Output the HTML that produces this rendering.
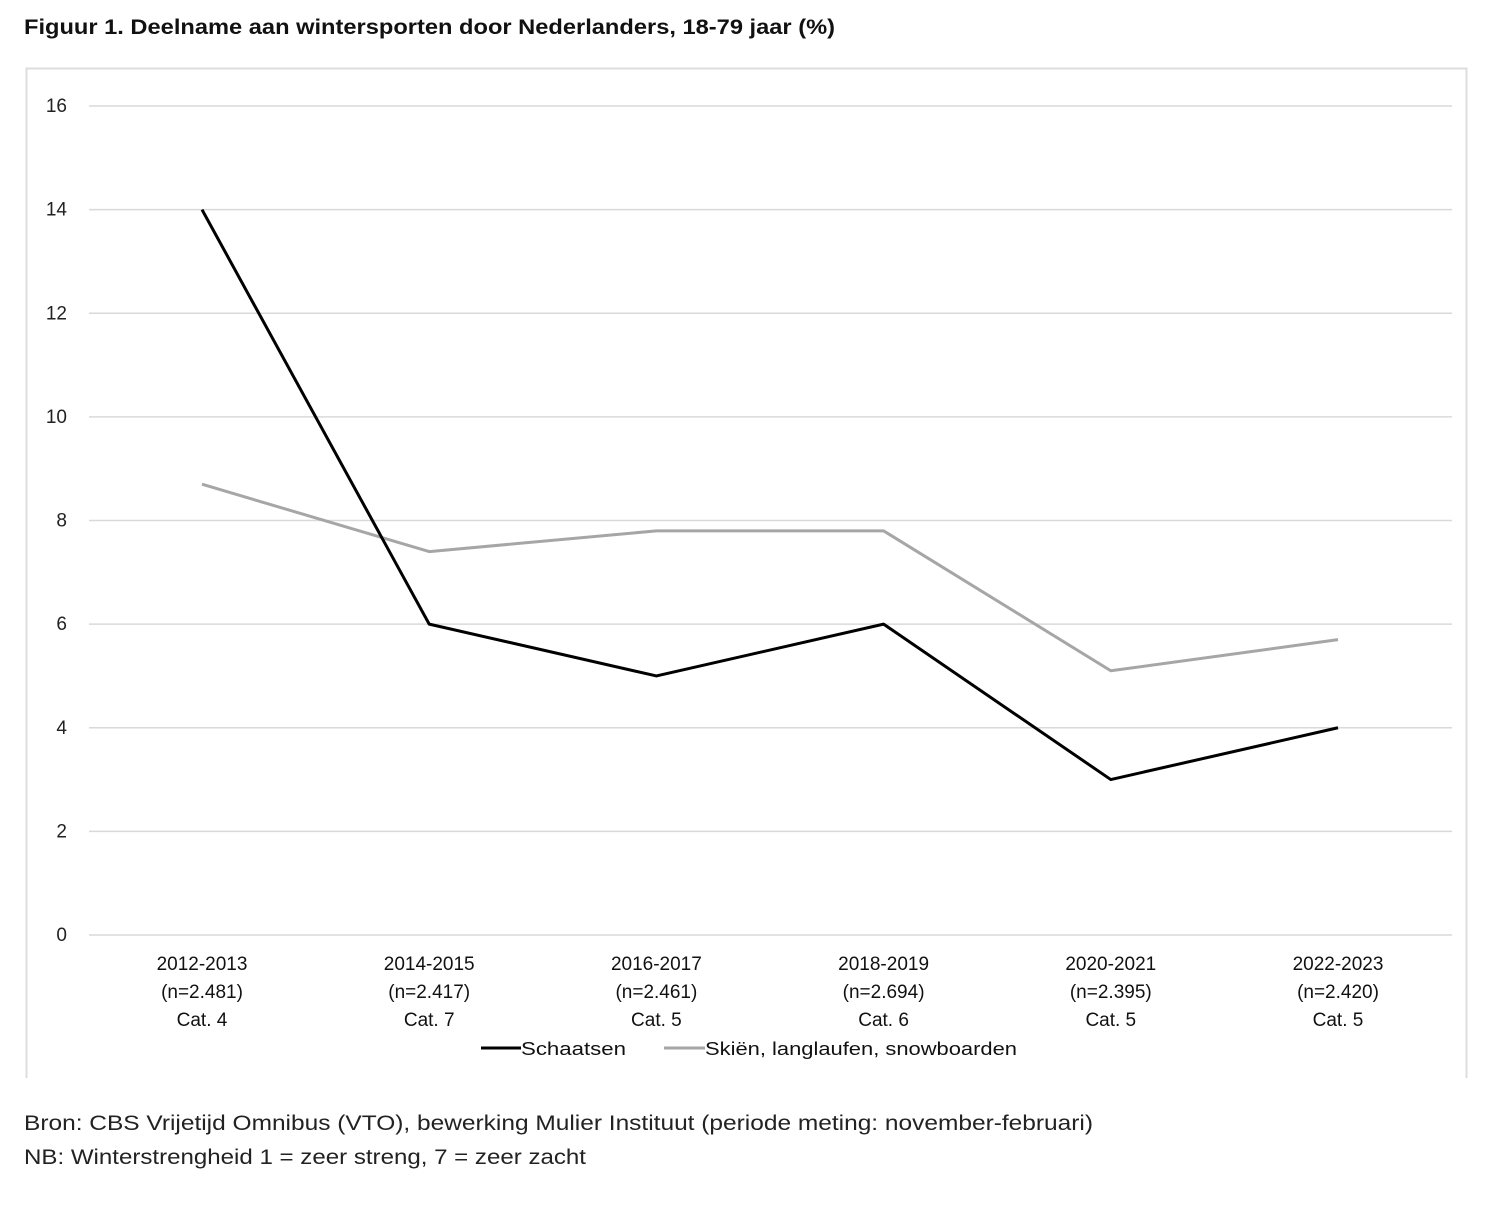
<!DOCTYPE html>
<html><head><meta charset="utf-8"><style>
body{margin:0;background:#fff;width:1492px;height:1211px;overflow:hidden;font-family:"Liberation Sans",sans-serif;}
svg text{font-family:"Liberation Sans",sans-serif;}
</style></head><body>
<svg width="1492" height="1211">
<text x="24" y="34" font-size="21" font-weight="bold" fill="#111" textLength="811" lengthAdjust="spacingAndGlyphs">Figuur 1. Deelname aan wintersporten door Nederlanders, 18-79 jaar (%)</text>
<path d="M26.5 1078 V68.5 H1466.5 V1078" fill="none" stroke="#ddd" stroke-width="2"/>
<g id="grid"></g><g id="lines"></g><g id="xlabels"></g>
<g>
<line x1="481" y1="1048" x2="521" y2="1048" stroke="#000" stroke-width="3"/>
<text x="521" y="1055" font-size="18" fill="#111" textLength="105" lengthAdjust="spacingAndGlyphs">Schaatsen</text>
<line x1="664" y1="1048" x2="705" y2="1048" stroke="#a6a6a6" stroke-width="3"/>
<text x="705" y="1055" font-size="18" fill="#111" textLength="312" lengthAdjust="spacingAndGlyphs">Skiën, langlaufen, snowboarden</text>
</g>
<text x="24" y="1130" font-size="21" fill="#222" textLength="1069" lengthAdjust="spacingAndGlyphs">Bron: CBS Vrijetijd Omnibus (VTO), bewerking Mulier Instituut (periode meting: november-februari)</text>
<text x="24" y="1164" font-size="21" fill="#222" textLength="562" lengthAdjust="spacingAndGlyphs">NB: Winterstrengheid 1 = zeer streng, 7 = zeer zacht</text>
</svg>
<script>
const categories=["2012-2013","2014-2015","2016-2017","2018-2019","2020-2021","2022-2023"];
const sampleSizes=["(n=2.481)","(n=2.417)","(n=2.461)","(n=2.694)","(n=2.395)","(n=2.420)"];
const winterCats=["Cat. 4","Cat. 7","Cat. 5","Cat. 6","Cat. 5","Cat. 5"];
const schaatsen=[14,6,5,6,3,4];
const skien=[8.7,7.4,7.8,7.8,5.1,5.7];
const yTicks=[0,2,4,6,8,10,12,14,16];
const NS="http://www.w3.org/2000/svg";
const y=v=>935-v*(829/16);
const x=i=>202+i*227.2;
function mk(t,a,p){const e=document.createElementNS(NS,t);for(const k in a)e.setAttribute(k,a[k]);p.appendChild(e);return e;}
const g=document.getElementById('grid');
yTicks.forEach(v=>{
 const l=mk('line',{x1:89,x2:1452,y1:y(v),y2:y(v),stroke:'#d9d9d9','stroke-width':1.5},g);
 
 
 const t=mk('text',{x:67,y:y(v)+6,'text-anchor':'end','font-size':19,fill:'#222'},g);
 t.textContent=v;
 
 
});
const xl=document.getElementById('xlabels');
categories.forEach((c,i)=>{
 [c,sampleSizes[i],winterCats[i]].forEach((s,j)=>{
  const t=mk('text',{x:x(i),y:970+j*28,'text-anchor':'middle','font-size':19,fill:'#111'},xl);
  t.textContent=s;
  
  
 });
});
const L=document.getElementById('lines');
const p2=mk('polyline',{points:skien.map((v,i)=>x(i)+','+y(v)).join(' '),fill:'none',stroke:'#a6a6a6','stroke-width':3,'stroke-linejoin':'round'},L);


const p1=mk('polyline',{points:schaatsen.map((v,i)=>x(i)+','+y(v)).join(' '),fill:'none',stroke:'#000','stroke-width':3,'stroke-linejoin':'round'},L);


</script>
</body></html>
